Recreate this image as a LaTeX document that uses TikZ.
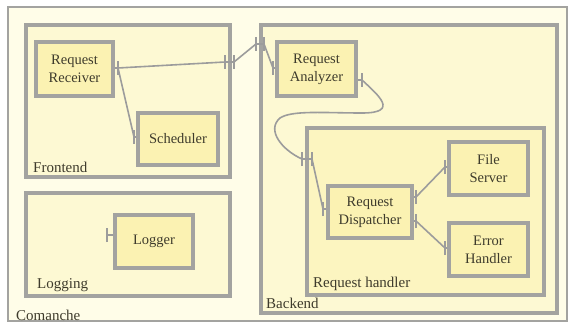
\documentclass[tikz,border=0pt]{standalone}
\usepackage{fontspec}
\setmainfont{Liberation Serif}
\definecolor{edge}{HTML}{A3A3A0}
\definecolor{wire}{HTML}{9C9C9C}
\definecolor{ink}{HTML}{3E3B2C}
\definecolor{sysfill}{HTML}{FFFDE8}
\definecolor{grpfill}{HTML}{FDF9D3}
\definecolor{subfill}{HTML}{FCF5C0}
\definecolor{compfill}{HTML}{FBF2B2}
\tikzset{
  x=1pt, y=-1pt,
  comp/.style={draw=edge, line width=3.6pt, fill=compfill, inner sep=0pt,
    align=center, text=ink, font=\fontsize{14.5}{18}\selectfont},
  group/.style={draw=edge, line width=3.6pt, inner sep=0pt},
  tag/.style={anchor=west, text=ink, inner sep=0pt, font=\fontsize{15}{18}\selectfont},
  wireline/.style={draw=wire, line width=1.6pt},
  barline/.style={draw=wire, line width=2pt},
}
\begin{document}
\begin{tikzpicture}
\useasboundingbox (0,0) rectangle (569,323);
\fill[white] (0,0) rectangle (569,323);

% system frame
\node[draw=edge, line width=2.4pt, fill=sysfill, minimum width=559pt, minimum height=314pt, inner sep=0pt] (comanche) at (287.5,164) {};
\node[tag] (comancheT) at (16,315) {Comanche};

% groups
\node[group, fill=grpfill, minimum width=204pt, minimum height=152pt] (frontend) at (128,101) {};
\node[tag] (frontendT) at (33,167) {Frontend};
\node[group, fill=grpfill, minimum width=204pt, minimum height=103pt] (logging) at (128,244.5) {};
\node[tag] (loggingT) at (37,285) {Logging};
\node[group, fill=grpfill, minimum width=296pt, minimum height=288pt] (backend) at (409,169) {};
\node[tag] (backendT) at (266,303) {Backend};
\node[group, fill=subfill, minimum width=237pt, minimum height=167pt] (handler) at (425.5,211.5) {};
\node[tag] (handlerT) at (313,284) {Request handler};

% components
\node[comp, minimum width=77pt, minimum height=54pt] (rr) at (74.5,69) {Request\\Receiver};
\node[comp, minimum width=80pt, minimum height=52pt] (sch) at (178,139) {Scheduler};
\node[comp, minimum width=78pt, minimum height=53pt] (log) at (154,241.5) {Logger};
\node[comp, minimum width=79pt, minimum height=54pt] (ra) at (316.5,69) {Request\\Analyzer};
\node[comp, minimum width=84pt, minimum height=52pt] (rd) at (370,212) {Request\\Dispatcher};
\node[comp, minimum width=79pt, minimum height=53pt] (fs) at (488.5,168.5) {File\\Server};
\node[comp, minimum width=79pt, minimum height=53pt] (eh) at (488.5,249.5) {Error\\Handler};

% port points
\coordinate (rrP) at (118,68);
\coordinate (schP) at (134,137);
\coordinate (logP) at (107,235);
\coordinate (raL) at (273,68);
\coordinate (raR) at (362,80);
\coordinate (rdL) at (323,209);
\coordinate (rdA) at (416,197);
\coordinate (rdB) at (416,221);
\coordinate (fsP) at (445,167);
\coordinate (ehP) at (445,248);
% ports through group borders
\coordinate (feIn) at (225,62);
\coordinate (feOut) at (234,62);
\coordinate (beOut) at (256,44);
\coordinate (beIn) at (264,44);
\coordinate (rhOut) at (302,159);
\coordinate (rhIn) at (312,159);

% stubs from the component edges
\draw[wireline] (rr.east |- rrP) -- (rrP);
\draw[wireline] (sch.west |- schP) -- (schP);
\draw[wireline] (log.west |- logP) -- (logP);
\draw[wireline] (ra.west |- raL) -- (raL);
\draw[wireline] (ra.east |- raR) -- (raR);
\draw[wireline] (rd.west |- rdL) -- (rdL);
\draw[wireline] (rd.east |- rdA) -- (rdA);
\draw[wireline] (rd.east |- rdB) -- (rdB);
\draw[wireline] (fs.west |- fsP) -- (fsP);
\draw[wireline] (eh.west |- ehP) -- (ehP);

% connectors
\draw[wireline] (rrP) -- (schP);
\draw[wireline] (rrP) -- (feIn) -- (feOut) -- (beOut) -- (beIn) -- (raL);
\draw[wireline] (raR) .. controls (378,95) and (400,113) .. (362,113)
  .. controls (325,113) and (292,110) .. (280,118)
  .. controls (266,130) and (282,150) .. (rhOut) -- (rhIn) -- (rdL);
\draw[wireline] (rdA) -- (fsP);
\draw[wireline] (rdB) -- (ehP);

% bars
\foreach \p in {rrP,schP,logP,raL,raR,rdL,rdA,rdB,fsP,ehP,feIn,feOut,beOut,beIn,rhOut,rhIn}
  \draw[barline] ([yshift=-7pt]\p) -- ([yshift=7pt]\p);
\end{tikzpicture}
\end{document}
